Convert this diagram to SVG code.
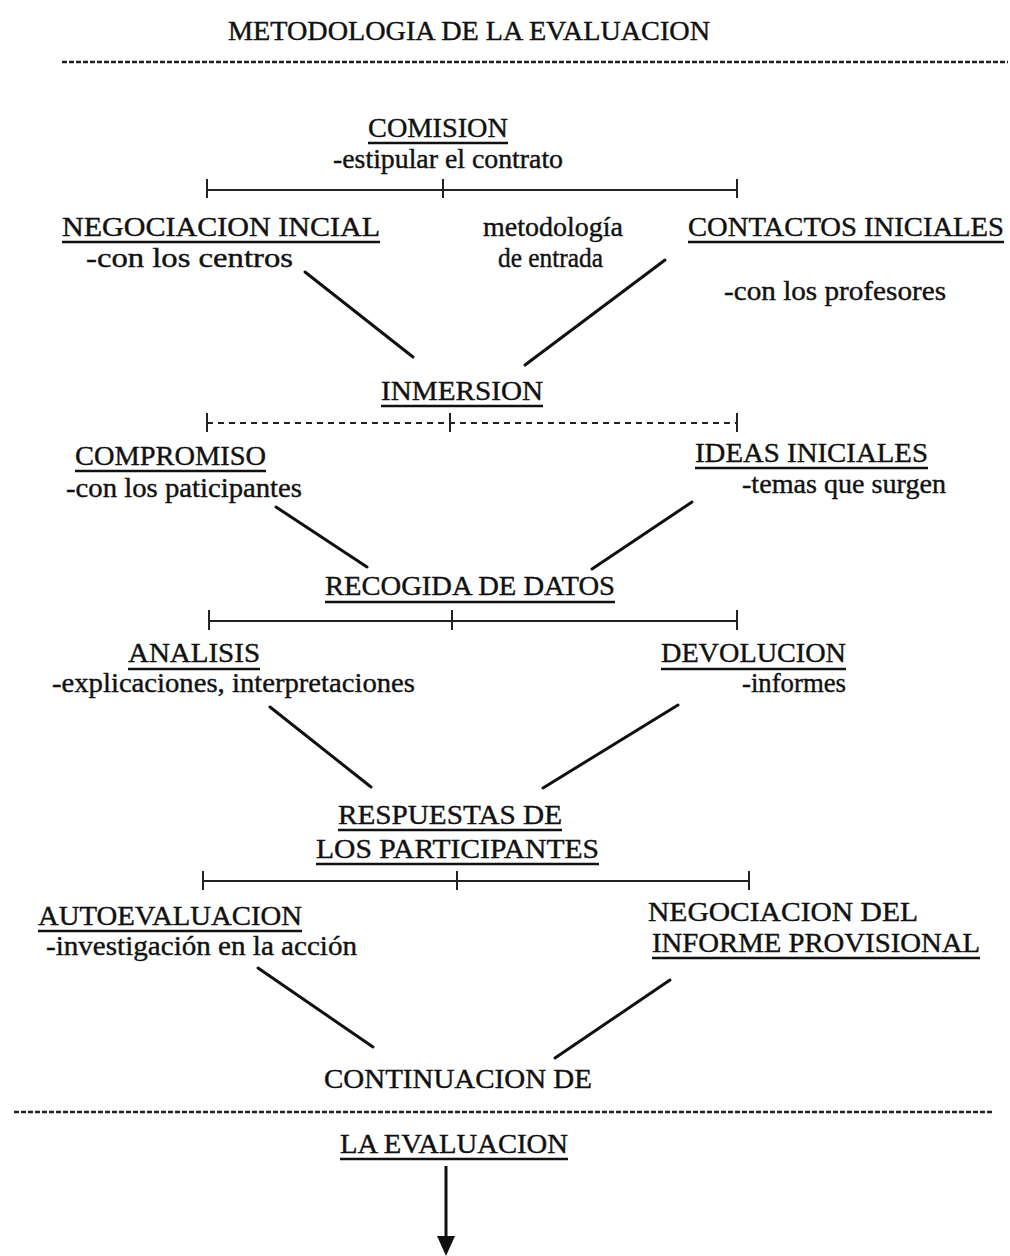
<svg xmlns="http://www.w3.org/2000/svg" width="1010" height="1256" viewBox="0 0 1010 1256">
<style>
.t{font-family:"Liberation Serif","DejaVu Serif",serif;font-size:28px;fill:#111;stroke:#111;stroke-width:0.4}
.u{stroke:#111;stroke-width:2.5}
.br{stroke:#222;stroke-width:2}
.dash{stroke:#222;stroke-width:2.5;stroke-dasharray:5 2}
.c{stroke:#111;stroke-width:3;stroke-linecap:round}
</style>
<rect width="1010" height="1256" fill="#fff"/>
<g id="title">
<text class="t" x="228" y="40" textLength="482" lengthAdjust="spacingAndGlyphs">METODOLOGIA DE LA EVALUACION</text>
<line class="dash" x1="62" y1="62" x2="1008" y2="62"/>
</g>
<g id="comision">
<text class="t" x="368" y="137" textLength="140" lengthAdjust="spacingAndGlyphs">COMISION</text>
<line class="u" x1="368" y1="143" x2="508" y2="143"/>
<text class="t" x="333" y="168" textLength="230" lengthAdjust="spacingAndGlyphs">-estipular el contrato</text>
</g>
<g id="bracket1">
<line class="br" x1="207" y1="190" x2="737" y2="190"/>
<line class="br" x1="207" y1="179" x2="207" y2="198"/>
<line class="br" x1="443" y1="179" x2="443" y2="198"/>
<line class="br" x1="737" y1="179" x2="737" y2="198"/>
</g>
<g id="negociacion-inicial">
<text class="t" x="62" y="236" textLength="318" lengthAdjust="spacingAndGlyphs">NEGOCIACION INCIAL</text>
<line class="u" x1="62" y1="242" x2="380" y2="242"/>
<text class="t" x="86" y="267" textLength="207" lengthAdjust="spacingAndGlyphs">-con los centros</text>
</g>
<g id="metodologia">
<text class="t" x="483" y="236" textLength="140" lengthAdjust="spacingAndGlyphs">metodología</text>
<text class="t" x="498" y="267" textLength="105" lengthAdjust="spacingAndGlyphs">de entrada</text>
</g>
<g id="contactos">
<text class="t" x="688" y="236" textLength="316" lengthAdjust="spacingAndGlyphs">CONTACTOS INICIALES</text>
<line class="u" x1="688" y1="242" x2="1004" y2="242"/>
<text class="t" x="724" y="300" textLength="222" lengthAdjust="spacingAndGlyphs">-con los profesores</text>
</g>
<g id="inmersion">
<text class="t" x="381" y="400" textLength="162" lengthAdjust="spacingAndGlyphs">INMERSION</text>
<line class="u" x1="381" y1="406" x2="543" y2="406"/>
</g>
<g id="bracket2">
<line class="br" x1="207" y1="423" x2="737" y2="423" stroke-dasharray="6 5" stroke-width="1.5"/>
<line class="br" x1="207" y1="413" x2="207" y2="432"/>
<line class="br" x1="450" y1="413" x2="450" y2="432"/>
<line class="br" x1="737" y1="413" x2="737" y2="432"/>
</g>
<g id="compromiso">
<text class="t" x="75" y="465" textLength="191" lengthAdjust="spacingAndGlyphs">COMPROMISO</text>
<line class="u" x1="75" y1="471" x2="266" y2="471"/>
<text class="t" x="66" y="497" textLength="236" lengthAdjust="spacingAndGlyphs">-con los paticipantes</text>
</g>
<g id="ideas-iniciales">
<text class="t" x="695" y="462" textLength="233" lengthAdjust="spacingAndGlyphs">IDEAS INICIALES</text>
<line class="u" x1="695" y1="468" x2="928" y2="468"/>
<text class="t" x="742" y="493" textLength="204" lengthAdjust="spacingAndGlyphs">-temas que surgen</text>
</g>
<g id="recogida">
<text class="t" x="325" y="595" textLength="290" lengthAdjust="spacingAndGlyphs">RECOGIDA DE DATOS</text>
<line class="u" x1="325" y1="602" x2="615" y2="602"/>
</g>
<g id="bracket3">
<line class="br" x1="209" y1="621" x2="737" y2="621"/>
<line class="br" x1="209" y1="610" x2="209" y2="630"/>
<line class="br" x1="452" y1="610" x2="452" y2="630"/>
<line class="br" x1="737" y1="610" x2="737" y2="630"/>
</g>
<g id="analisis">
<text class="t" x="128" y="662" textLength="132" lengthAdjust="spacingAndGlyphs">ANALISIS</text>
<line class="u" x1="128" y1="669" x2="260" y2="669"/>
<text class="t" x="52" y="692" textLength="363" lengthAdjust="spacingAndGlyphs">-explicaciones, interpretaciones</text>
</g>
<g id="devolucion">
<text class="t" x="661" y="662" textLength="185" lengthAdjust="spacingAndGlyphs">DEVOLUCION</text>
<line class="u" x1="661" y1="669" x2="846" y2="669"/>
<text class="t" x="742" y="692" textLength="104" lengthAdjust="spacingAndGlyphs">-informes</text>
</g>
<g id="respuestas">
<text class="t" x="338" y="824" textLength="224" lengthAdjust="spacingAndGlyphs">RESPUESTAS DE</text>
<line class="u" x1="338" y1="830" x2="562" y2="830"/>
<text class="t" x="316" y="858" textLength="283" lengthAdjust="spacingAndGlyphs">LOS PARTICIPANTES</text>
<line class="u" x1="316" y1="864" x2="599" y2="864"/>
</g>
<g id="bracket4">
<line class="br" x1="203" y1="881" x2="749" y2="881"/>
<line class="br" x1="203" y1="871" x2="203" y2="890"/>
<line class="br" x1="457" y1="871" x2="457" y2="890"/>
<line class="br" x1="749" y1="871" x2="749" y2="890"/>
</g>
<g id="autoevaluacion">
<text class="t" x="38" y="925" textLength="264" lengthAdjust="spacingAndGlyphs">AUTOEVALUACION</text>
<line class="u" x1="38" y1="931" x2="302" y2="931"/>
<text class="t" x="46" y="955" textLength="311" lengthAdjust="spacingAndGlyphs">-investigación en la acción</text>
</g>
<g id="negociacion-informe">
<text class="t" x="648" y="921" textLength="270" lengthAdjust="spacingAndGlyphs">NEGOCIACION DEL</text>
<text class="t" x="652" y="952" textLength="328" lengthAdjust="spacingAndGlyphs">INFORME PROVISIONAL</text>
<line class="u" x1="652" y1="958" x2="980" y2="958"/>
</g>
<g id="continuacion">
<text class="t" x="324" y="1088" textLength="268" lengthAdjust="spacingAndGlyphs">CONTINUACION DE</text>
<line class="dash" x1="14" y1="1112" x2="994" y2="1112"/>
<text class="t" x="340" y="1153" textLength="228" lengthAdjust="spacingAndGlyphs">LA EVALUACION</text>
<line class="u" x1="340" y1="1159" x2="568" y2="1159"/>
</g>
<g id="connectors">
<line class="c" x1="305" y1="272" x2="413" y2="357"/>
<line class="c" x1="665" y1="260" x2="525" y2="365"/>
<line class="c" x1="276" y1="507" x2="367" y2="567"/>
<line class="c" x1="692" y1="502" x2="592" y2="569"/>
<line class="c" x1="270" y1="707" x2="371" y2="787"/>
<line class="c" x1="678" y1="705" x2="543" y2="788"/>
<line class="c" x1="258" y1="968" x2="373" y2="1047"/>
<line class="c" x1="670" y1="980" x2="555" y2="1058"/>
<line stroke="#111" stroke-width="3" x1="446" y1="1166" x2="446" y2="1240"/>
<polygon points="437,1236 455,1236 446,1256" fill="#111"/>
</g>
</svg>
